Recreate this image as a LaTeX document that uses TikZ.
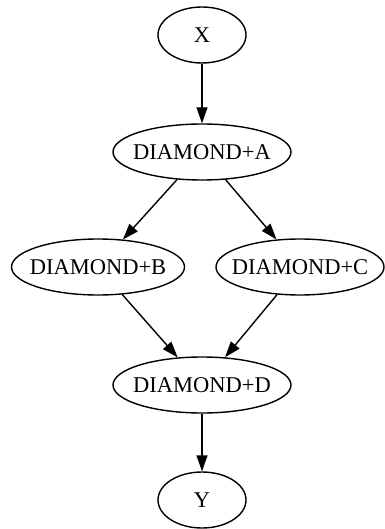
\documentclass[tikz,border=0pt]{standalone}
\usepackage{fontspec}
\setmainfont{Liberation Serif}
\usetikzlibrary{shapes.geometric,arrows.meta}

\begin{document}
\begin{tikzpicture}[
		x=1pt,y=1pt,
		line width=1.4pt,
		every node/.style={ellipse,draw,inner sep=0pt,minimum height=56pt,font=\fontsize{22.5}{26}\selectfont},
		small/.style={minimum width=88pt},
		wide/.style={minimum width=178pt},
		edge/.style={-{Triangle[length=16pt,width=11pt]}}
		]
		\useasboundingbox (0,0) rectangle (384,-529);
		\node[small,label={[draw=none]center:X}] (x) at (202,-35) {};
		\node[wide,label={[draw=none]center:DIAMOND+A}] (a) at (202,-152) {};
		\node[minimum width=173pt,label={[draw=none]center:DIAMOND+B}] (b) at (98,-267) {};
		\node[minimum width=168pt,label={[draw=none]center:DIAMOND+C}] (c) at (300,-267) {};
		\node[wide,label={[draw=none]center:DIAMOND+D}] (d) at (202,-385) {};
		\node[small,label={[draw=none]center:Y}] (y) at (202,-500) {};
		
		\draw[edge] (x) -- (a);
		\draw[edge] (a) -- (b);
		\draw[edge] (a) -- (c);
		\draw[edge] (b) -- (d);
		\draw[edge] (c) -- (d);
		\draw[edge] (d) -- (y);
		\end{tikzpicture}
\end{document}
